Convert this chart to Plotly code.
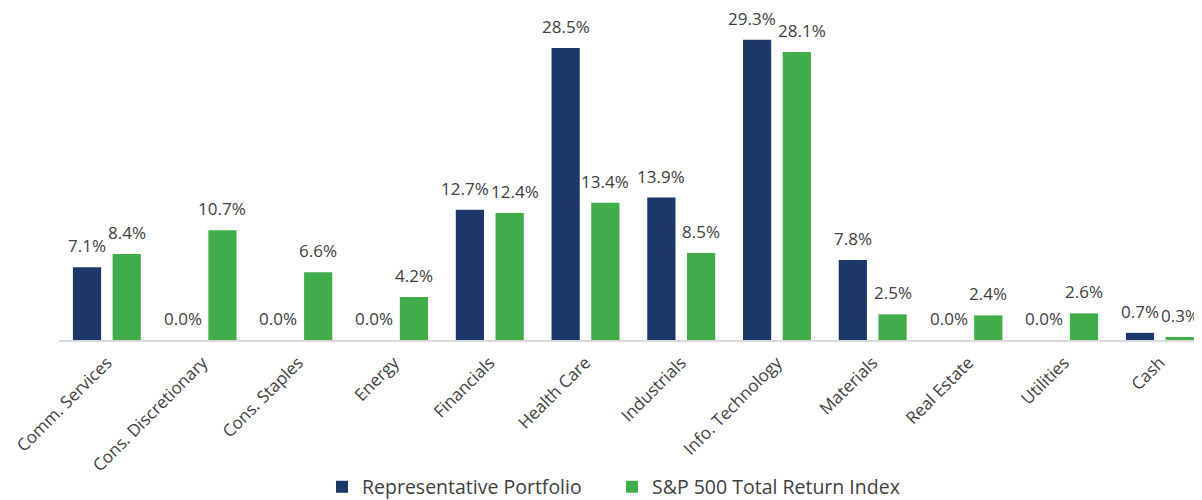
import plotly.graph_objects as go

categories = ["Comm. Services", "Cons. Discretionary", "Cons. Staples", "Energy",
              "Financials", "Health Care", "Industrials", "Info. Technology",
              "Materials", "Real Estate", "Utilities", "Cash"]
portfolio = [7.1, 0.0, 0.0, 0.0, 12.7, 28.5, 13.9, 29.3, 7.8, 0.0, 0.0, 0.7]
sp500 = [8.4, 10.7, 6.6, 4.2, 12.4, 13.4, 8.5, 28.1, 2.5, 2.4, 2.6, 0.3]

NAVY = "#1d3768"
GREEN = "#41ad4a"
TXT = "#404040"
FONT = "Open Sans"
LABEL_SIZE = 17

fig = go.Figure()
fig.add_trace(go.Bar(
    x=categories, y=portfolio, name="Representative Portfolio",
    marker=dict(color=NAVY, line=dict(width=0)), hoverinfo="skip",
))
fig.add_trace(go.Bar(
    x=categories, y=sp500, name="S&P 500 Total Return Index",
    marker=dict(color=GREEN, line=dict(width=0)), hoverinfo="skip",
))

# layout geometry (page body has an 8px margin, figure sized accordingly)
W, H = 1194, 492
ML, MT, MB = 50.6, 2, 160
XR = [-0.5, 11.44]
YR = [0, 32.2]
BARGAP, GROUPGAP = 0.17, 0.29
cat_px = (W - ML) / (XR[1] - XR[0])
slot = (1 - BARGAP) * cat_px / 2
plot_h = H - MT - MB
px_per_unit = plot_h / (YR[1] - YR[0])


def text_w(s):
    return len(s) * 0.56 * LABEL_SIZE


# data labels as annotations (Excel-like: lifted and nudged apart when colliding)
for cat, a, b in zip(categories, portfolio, sp500):
    ta, tb = f"{a:.1f}%", f"{b:.1f}%"
    push = 0.0
    need = (text_w(ta) + text_w(tb)) / 2 + 2
    if abs(a - b) * px_per_unit < 20 and need > slot:
        push = (need - slot) / 2
    for val, txt, sh in ((a, ta, -slot / 2 - push), (b, tb, slot / 2 + push)):
        fig.add_annotation(x=cat, y=val, xref="x", yref="y", text=txt,
                           showarrow=False, xanchor="center", yanchor="bottom",
                           xshift=sh, yshift=8,
                           font=dict(family=FONT, size=LABEL_SIZE, color=TXT))

fig.update_layout(
    width=W, height=H,
    margin=dict(l=ML, r=0, t=MT, b=MB, autoexpand=False),
    paper_bgcolor="white", plot_bgcolor="white",
    barmode="group", bargap=BARGAP, bargroupgap=GROUPGAP,
    font=dict(family=FONT, color=TXT, size=17),
    showlegend=True,
    legend=dict(orientation="h", xref="container", x=(322 - 8) / W, xanchor="left",
                yref="paper", y=-147 / plot_h, yanchor="middle",
                entrywidth=245, entrywidthmode="pixels",
                font=dict(family=FONT, size=19.5, color=TXT), traceorder="normal"),
    xaxis=dict(tickangle=-45, showline=True, linecolor="#d9d9d9", linewidth=2,
               ticks="", showgrid=False, automargin=False, ticklabelstandoff=4,
               range=XR,
               tickfont=dict(family=FONT, size=17, color=TXT)),
    yaxis=dict(range=YR, visible=False, showgrid=False, zeroline=False,
               automargin=False),
)

fig.write_html("out.html")
